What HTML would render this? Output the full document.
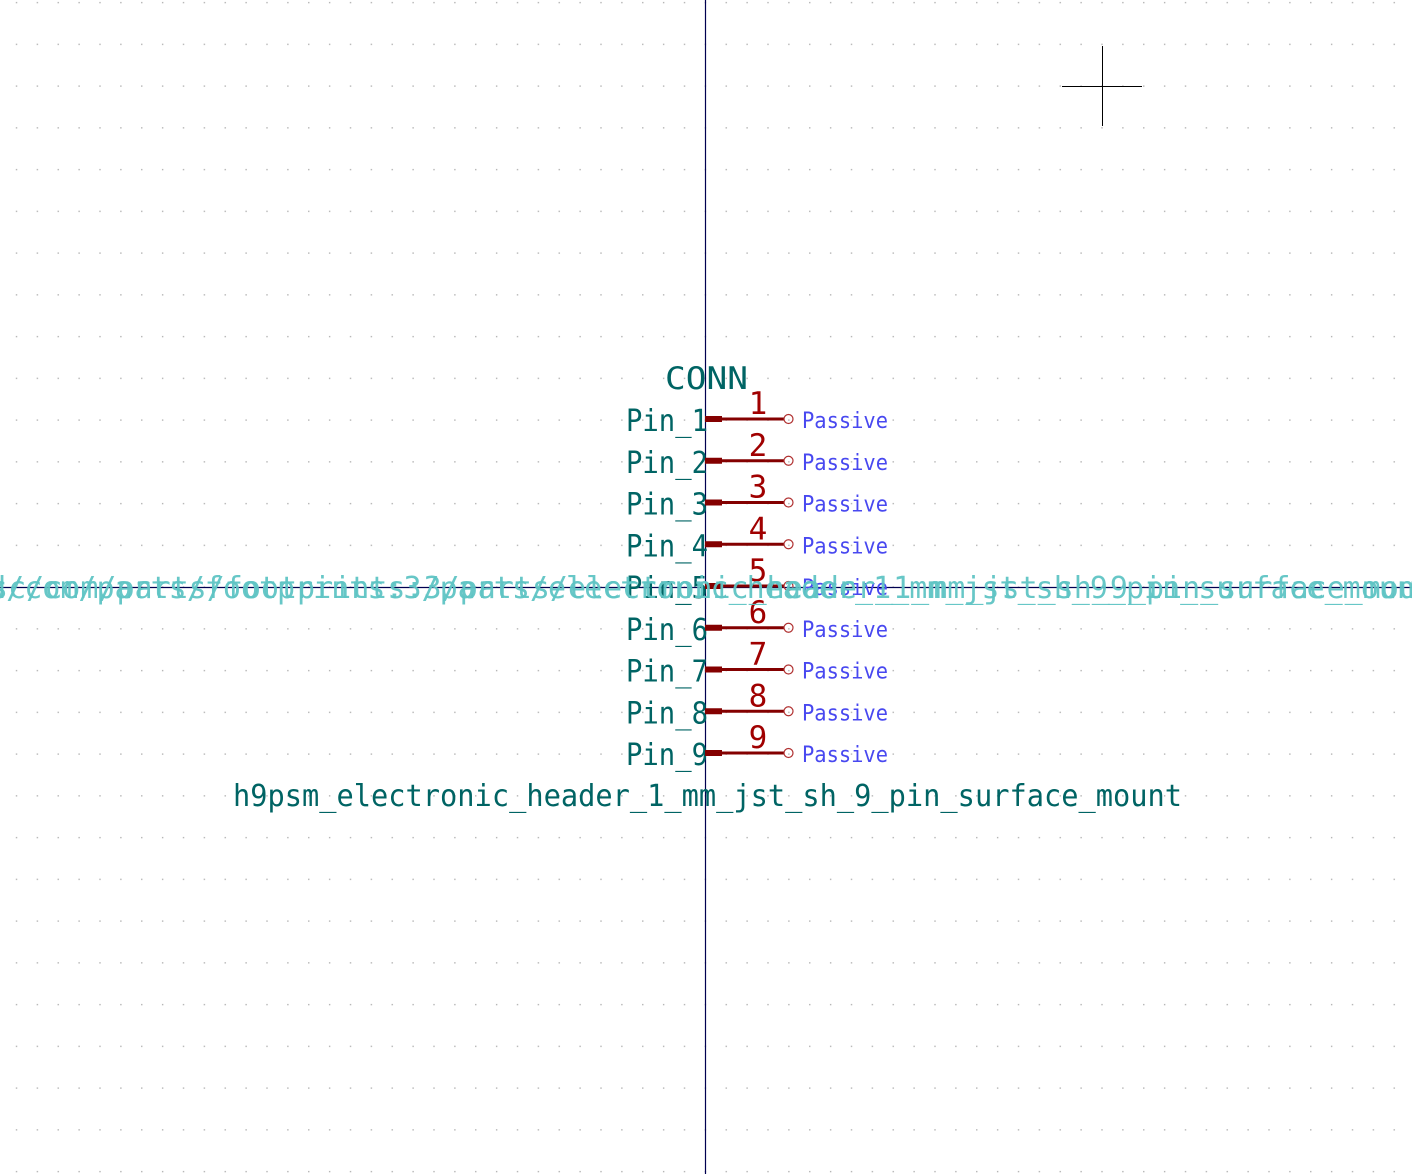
<!DOCTYPE html>
<html><head><meta charset="utf-8"><style>
html,body{margin:0;padding:0;background:#fff;}
svg{display:block;}
text{font-family:"DejaVu Sans Mono","Liberation Mono",monospace;}
</style></head><body>
<svg width="1412" height="1174" viewBox="0 0 1412 1174" xmlns="http://www.w3.org/2000/svg">
<defs>
<pattern id="g" x="15.8" y="1.9" width="20.875" height="41.75" patternUnits="userSpaceOnUse">
<rect x="0" y="0" width="1.4" height="1.4" fill="#b4b4b4"/>
</pattern>
</defs>
<rect width="1412" height="1174" fill="url(#g)"/>
<line x1="705.5" y1="0" x2="705.5" y2="1174" stroke="#000050" stroke-width="1.2"/>
<line x1="0" y1="587.5" x2="1412" y2="587.5" stroke="#000050" stroke-width="1.2"/>
<line x1="1062" y1="86.5" x2="1142" y2="86.5" stroke="#000" stroke-width="1"/>
<line x1="1102.5" y1="46" x2="1102.5" y2="126" stroke="#000" stroke-width="1"/>

<text x="665" y="389" font-size="31" fill="#006464" textLength="83" lengthAdjust="spacingAndGlyphs">CONN</text>

<g id="pins">
</g>
<g fill="#006464" font-size="30">
<text x="626" y="431" textLength="82" lengthAdjust="spacingAndGlyphs">Pin_1</text>
<text x="626" y="472.75" textLength="82" lengthAdjust="spacingAndGlyphs">Pin_2</text>
<text x="626" y="514.5" textLength="82" lengthAdjust="spacingAndGlyphs">Pin_3</text>
<text x="626" y="556.25" textLength="82" lengthAdjust="spacingAndGlyphs">Pin_4</text>
<text x="626" y="598" textLength="82" lengthAdjust="spacingAndGlyphs">Pin_5</text>
<text x="626" y="639.75" textLength="82" lengthAdjust="spacingAndGlyphs">Pin_6</text>
<text x="626" y="681.5" textLength="82" lengthAdjust="spacingAndGlyphs">Pin_7</text>
<text x="626" y="723.25" textLength="82" lengthAdjust="spacingAndGlyphs">Pin_8</text>
<text x="626" y="765" textLength="82" lengthAdjust="spacingAndGlyphs">Pin_9</text>
</g>
<g stroke="#840000">
<g stroke-width="6"><line x1="705" y1="419" x2="722" y2="419"/><line x1="705" y1="460.75" x2="722" y2="460.75"/><line x1="705" y1="502.5" x2="722" y2="502.5"/><line x1="705" y1="544.25" x2="722" y2="544.25"/><line x1="705" y1="586" x2="722" y2="586"/><line x1="705" y1="627.75" x2="722" y2="627.75"/><line x1="705" y1="669.5" x2="722" y2="669.5"/><line x1="705" y1="711.25" x2="722" y2="711.25"/><line x1="705" y1="753" x2="722" y2="753"/></g>
<g stroke-width="3"><line x1="720" y1="419" x2="784" y2="419"/><line x1="720" y1="460.75" x2="784" y2="460.75"/><line x1="720" y1="502.5" x2="784" y2="502.5"/><line x1="720" y1="544.25" x2="784" y2="544.25"/><line x1="720" y1="586" x2="784" y2="586"/><line x1="720" y1="627.75" x2="784" y2="627.75"/><line x1="720" y1="669.5" x2="784" y2="669.5"/><line x1="720" y1="711.25" x2="784" y2="711.25"/><line x1="720" y1="753" x2="784" y2="753"/></g>
<g stroke-width="1.2" fill="none" stroke="#b03030"><circle cx="788.5" cy="419" r="4.5"/><circle cx="788.5" cy="460.75" r="4.5"/><circle cx="788.5" cy="502.5" r="4.5"/><circle cx="788.5" cy="544.25" r="4.5"/><circle cx="788.5" cy="586" r="4.5"/><circle cx="788.5" cy="627.75" r="4.5"/><circle cx="788.5" cy="669.5" r="4.5"/><circle cx="788.5" cy="711.25" r="4.5"/><circle cx="788.5" cy="753" r="4.5"/></g>
</g>
<g fill="#a00000" font-size="31" text-anchor="middle">
<text x="758" y="414">1</text><text x="758" y="455.75">2</text><text x="758" y="497.5">3</text><text x="758" y="539.25">4</text><text x="758" y="581">5</text><text x="758" y="622.75">6</text><text x="758" y="664.5">7</text><text x="758" y="706.25">8</text><text x="758" y="748">9</text>
</g>
<g fill="#4848f0" font-size="22">
<text x="802" y="428" textLength="86" lengthAdjust="spacingAndGlyphs">Passive</text>
<text x="802" y="469.75" textLength="86" lengthAdjust="spacingAndGlyphs">Passive</text>
<text x="802" y="511.5" textLength="86" lengthAdjust="spacingAndGlyphs">Passive</text>
<text x="802" y="553.25" textLength="86" lengthAdjust="spacingAndGlyphs">Passive</text>
<text x="802" y="595" textLength="86" lengthAdjust="spacingAndGlyphs">Passive</text>
<text x="802" y="636.75" textLength="86" lengthAdjust="spacingAndGlyphs">Passive</text>
<text x="802" y="678.5" textLength="86" lengthAdjust="spacingAndGlyphs">Passive</text>
<text x="802" y="720.25" textLength="86" lengthAdjust="spacingAndGlyphs">Passive</text>
<text x="802" y="762" textLength="86" lengthAdjust="spacingAndGlyphs">Passive</text>
</g>
<g fill="#5fc4c4" font-size="30" fill-opacity="0.95">
<text x="1433" y="598" text-anchor="end">com/kicad/com/parts/footprints:3/parts/electronic_header_1_mm_jst_sh_9_pin_surface_mount</text>
<text x="1453" y="598" text-anchor="end">com/lcsc/com/parts/footprints:3/parts/electronic_header_1_mm_jst_sh_9_pin_surface_mount</text>
</g>
<text x="233" y="806" font-size="30" fill="#006464" textLength="949" lengthAdjust="spacingAndGlyphs">h9psm_electronic_header_1_mm_jst_sh_9_pin_surface_mount</text>
</svg>
</body></html>
